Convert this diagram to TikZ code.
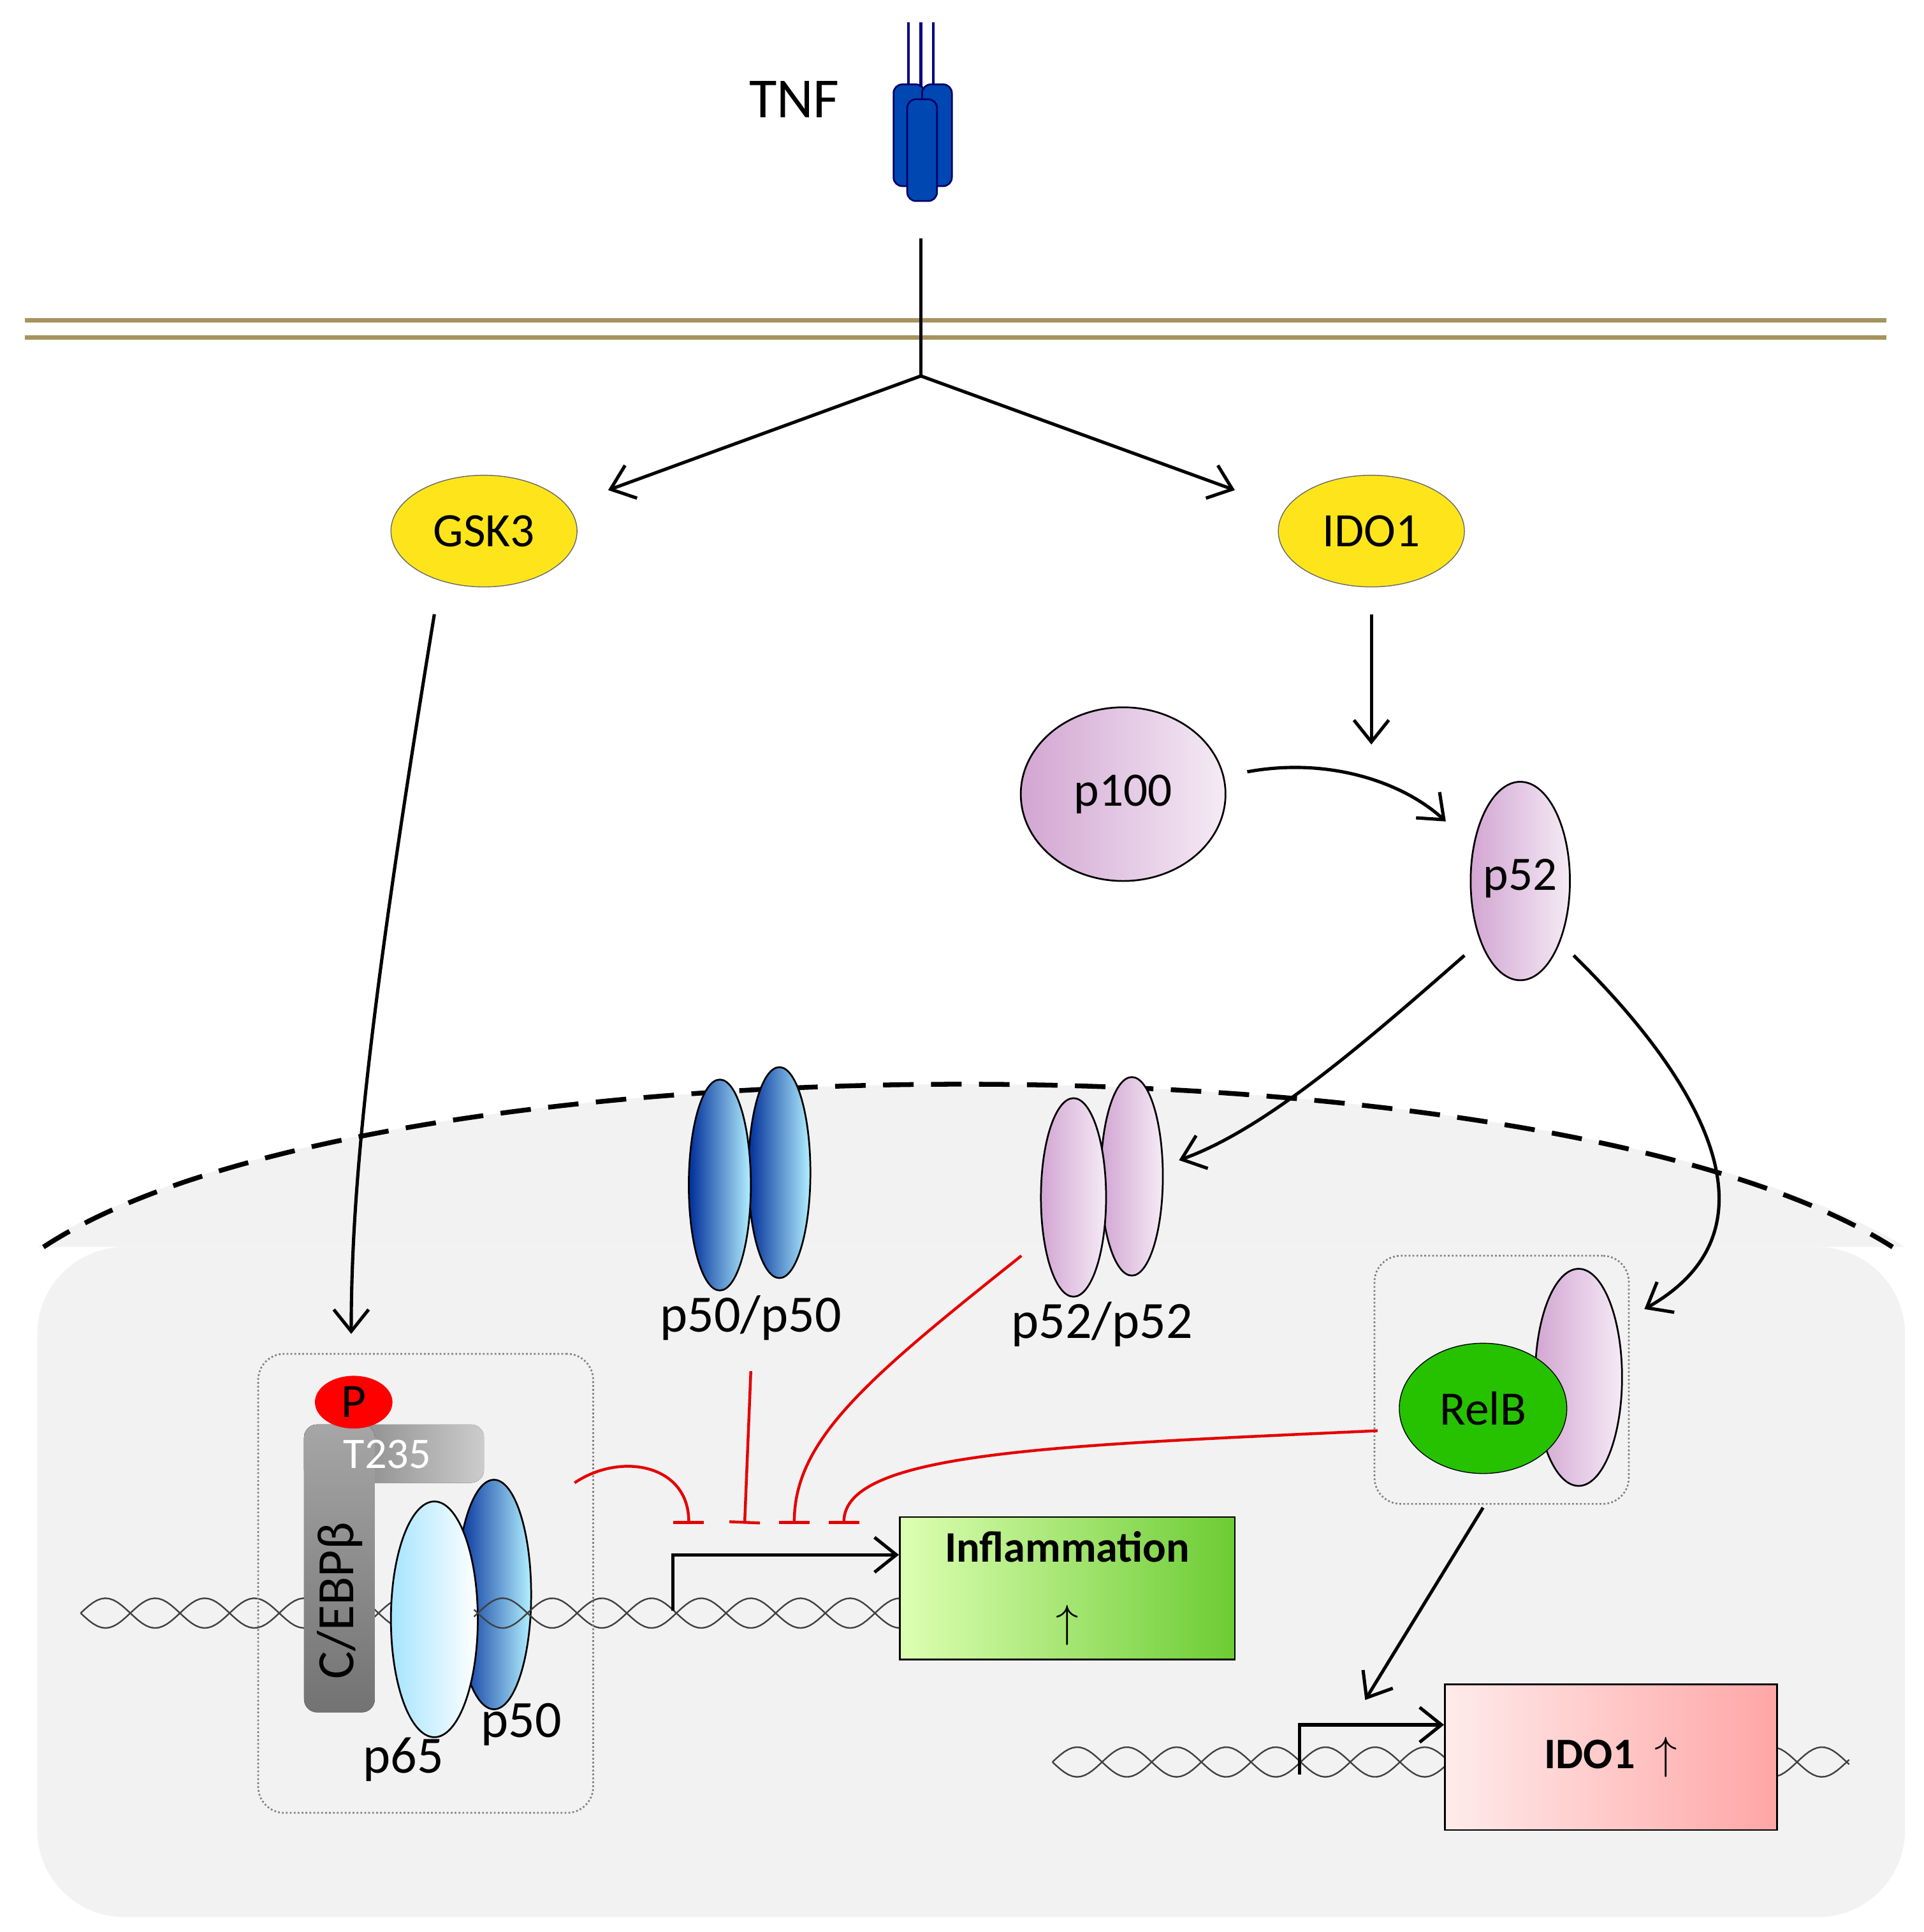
\documentclass[tikz,border=0pt]{standalone}
\usepackage{fontspec}
\setmainfont{Carlito}
\usetikzlibrary{arrows.meta,shapes.geometric}
\begin{document}
\begin{tikzpicture}[x=0.02cm,y=-0.02cm,
  arr/.style={line width=1.5pt,-{Straight Barb[length=10pt,width=16pt]}},
  inh/.style={red!90!black,line width=1.3pt,-{Bar[width=14pt]}},
  lbl/.style={font=\fontsize{22}{24}\selectfont},
  rec/.style={draw=blue!40!black,fill=blue!60!cyan!70!black,rounded corners=4pt,line width=0.8pt},
  lav/.style={draw=black,line width=0.8pt,left color=violet!35!white,right color=violet!8!white},
  blu/.style={draw=black,line width=0.8pt,left color=blue!70!cyan!60!black,right color=blue!20!cyan!30!white},
  box/.style={draw=gray,densely dotted,rounded corners=12pt,line width=0.8pt},
  dna/.style={gray!50!black,line width=0.7pt}]
\useasboundingbox (0,0) rectangle (1550,1557);
% nucleus
\fill[gray!10,rounded corners=40pt] (30,1005) -- (30,1545) -- (1535,1545) -- (1535,1005) -- cycle;
\fill[gray!10] (30,1005) .. controls (300,830) and (1250,830) .. (1535,1005) -- cycle;
\draw[dashed,line width=2.2pt,dash pattern=on 14pt off 8pt] (35,1005) .. controls (300,830) and (1250,830) .. (1525,1005);
% membrane
\draw[color={rgb,255:red,166;green,148;blue,95},line width=2pt] (20,258) -- (1520,258) (20,272) -- (1520,272);
% receptor
\foreach \xx in {732,742,752}{\draw[blue!50!black,line width=1.3pt] (\xx,18) -- (\xx,75);}
\draw[rec] (720,68) rectangle (745,150);
\draw[rec] (743,68) rectangle (767,150);
\draw[rec] (731,80) rectangle (755,162);
\node[font=\fontsize{26}{28}\selectfont] (tnf) at (640,80) {TNF};
\coordinate (r1) at (742,192); \coordinate (br) at (742,303);
\draw[line width=1.5pt] (r1) -- (br);
\node[ellipse,draw=black!60,fill=yellow!85!orange!90,inner sep=0pt,minimum width=3cm,minimum height=1.8cm,lbl] (gsk) at (390,428) {GSK3};
\node[ellipse,draw=black!60,fill=yellow!85!orange!90,inner sep=0pt,minimum width=3cm,minimum height=1.8cm,lbl] (ido) at (1105,428) {IDO1};
\coordinate (ga) at (490,395); \coordinate (ia) at (995,395);
\draw[arr] (br) -- (ga); \draw[arr] (br) -- (ia);
% GSK3 arrow
\coordinate (gs) at (350,495); \coordinate (ge) at (283,1075);
\draw[arr] (gs) .. controls (300,800) and (283,950) .. (ge);
\coordinate (is) at (1105,495); \coordinate (ie) at (1105,600);
\draw[arr] (is) -- (ie);
% p100, p52
\node[ellipse,lav,minimum width=3.3cm,minimum height=2.8cm,lbl] (p100) at (905,640) {p100};
\node[ellipse,lav,minimum width=1.6cm,minimum height=3.2cm,lbl] (p52) at (1225,710) {};
\node[lbl] at (1225,708) {p52};
\coordinate (a1) at (1005,622); \coordinate (a2) at (1165,662);
\draw[arr] (a1) .. controls (1070,610) and (1130,630) .. (a2);
\coordinate (b1) at (1180,770); \coordinate (b2) at (950,935);
\draw[arr] (b1) .. controls (1100,840) and (1020,910) .. (b2);
\coordinate (c1) at (1268,770); \coordinate (c2) at (1325,1055);
\draw[arr] (c1) .. controls (1370,870) and (1440,990) .. (c2);
% dimers
\node[ellipse,blu,minimum width=1cm,minimum height=3.4cm] (d2) at (628,945) {};
\node[ellipse,blu,minimum width=1cm,minimum height=3.4cm] (d1) at (580,955) {};
\node[font=\fontsize{24}{26}\selectfont] (l5050) at (605,1062) {p50/p50};
\node[ellipse,lav,minimum width=1cm,minimum height=3.2cm] (e2) at (912,948) {};
\node[ellipse,lav,minimum width=1.05cm,minimum height=3.2cm] (e1) at (865,965) {};
\node[font=\fontsize{24}{26}\selectfont] (l5252) at (888,1067) {p52/p52};
% RelB box
\node[box,minimum width=4.1cm,minimum height=4cm] (rbox) at (1210,1112) {};
\node[ellipse,lav,minimum width=1.4cm,minimum height=3.5cm] (rp52) at (1272,1110) {};
\node[ellipse,draw=black,fill=green!70!black!80!lime,minimum width=2.7cm,minimum height=2.1cm,lbl] (relb) at (1195,1135) {RelB};
% DNA
\draw[dna] plot[domain=65:725,samples=200] (\x,{1300+12*sin((\x-65)*4.5)});
\draw[dna] plot[domain=65:725,samples=200] (\x,{1300-12*sin((\x-65)*4.5)});
\draw[dna] plot[domain=848:1490,samples=200] (\x,{1420+12*sin((\x-848)*4.5)});
\draw[dna] plot[domain=848:1490,samples=200] (\x,{1420-12*sin((\x-848)*4.5)});
% left complex
\node[box,minimum width=5.4cm,minimum height=7.4cm] (lbox) at (343,1276) {};
\fill[left color=gray!90!black,right color=gray!40,rounded corners=6pt] (245,1148) rectangle (390,1195);
\fill[top color=gray!70,bottom color=gray!90!black,rounded corners=6pt] (245,1148) rectangle (302,1380);
\node[text=white,font=\fontsize{20}{22}\selectfont] at (312,1172) {T235};
\node[rotate=90,font=\fontsize{24}{26}\selectfont] at (274,1290) {C/EBPβ};
\node[ellipse,fill=red,minimum width=1.25cm,minimum height=0.85cm,inner sep=0pt,lbl] (P) at (285,1130) {P};
\node[ellipse,blu,minimum width=1.2cm,minimum height=3.7cm] (p50) at (398,1285) {};
\node[ellipse,draw=black,line width=0.8pt,left color=blue!30!cyan!35!white,right color=white,minimum width=1.4cm,minimum height=3.8cm] (p65) at (350,1305) {};
\draw[dna] plot[domain=382:430,samples=40] (\x,{1300+12*sin((\x-65)*4.5)});
\draw[dna] plot[domain=382:430,samples=40] (\x,{1300-12*sin((\x-65)*4.5)});
\node[font=\fontsize{24}{26}\selectfont] at (325,1418) {p65};
\node[font=\fontsize{24}{26}\selectfont] at (420,1390) {p50};
% Inflammation
\node[draw=black,line width=0.8pt,left color=green!25!lime!30!white,right color=green!50!lime!60!gray,minimum width=5.4cm,minimum height=2.3cm,inner sep=0pt,align=center,font=\bfseries\fontsize{20}{34}\selectfont] (infl) at (860,1280) {Inflammation\\$\uparrow$};
\coordinate (pr1) at (542,1298);
\draw[arr] (pr1) -- (542,1253) -- (infl.west |- 0,1253);
% IDO1 box
\node[draw=black,line width=0.8pt,left color=red!8,right color=red!35,minimum width=5.35cm,minimum height=2.35cm,font=\bfseries\fontsize{20}{22}\selectfont] (idob) at (1298,1416) {IDO1 \ $\uparrow$};
\coordinate (pr2) at (1047,1430);
\draw[arr] (pr2) -- (1047,1390) -- (idob.west |- 0,1390);
\coordinate (rb) at (1195,1215); \coordinate (rbe) at (1100,1370);
\draw[arr] (rb) -- (rbe);
% inhibitions
\coordinate (t1) at (555,1228); \coordinate (t2) at (600,1228);
\coordinate (t3) at (640,1228); \coordinate (t4) at (680,1228);
\draw[inh] (463,1195) .. controls (500,1170) and (555,1180) .. (t1);
\draw[inh] (605,1105) -- (t2);
\draw[inh] (823,1012) .. controls (700,1110) and (640,1160) .. (t3);
\draw[inh] (1110,1153) .. controls (850,1165) and (680,1170) .. (t4);
\end{tikzpicture}
\end{document}
